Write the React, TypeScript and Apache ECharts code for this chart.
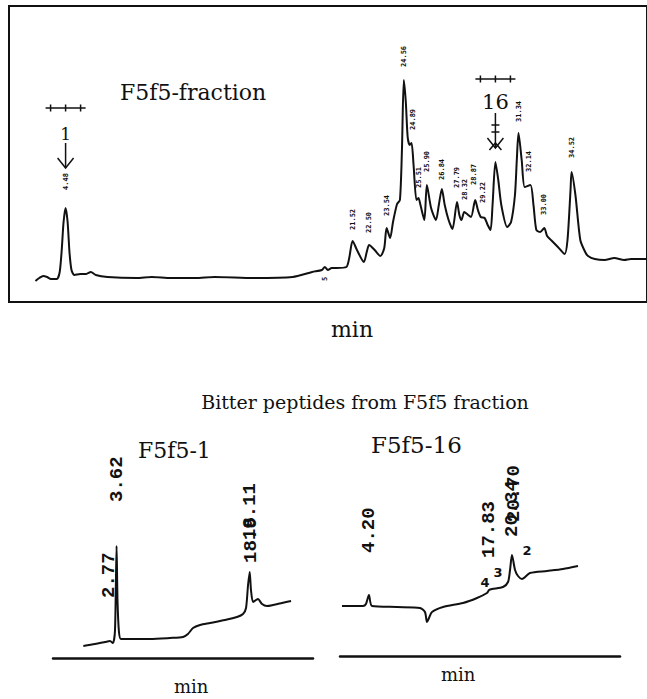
import React, { useEffect, useRef } from "react";
import * as echarts from "echarts";

// F5f5-fraction chromatogram: [retention time (min), detector response]
const fractionTrace: [number, number][] = [
  [2.69, 21], [2.92, 24], [3.15, 26], [3.38, 25], [3.61, 23], [3.96, 23], [4.13, 30], [4.25, 52], [4.36, 80],
  [4.48, 94], [4.6, 80], [4.71, 50], [4.83, 32], [5.0, 27], [5.35, 28], [5.7, 28], [5.98, 30], [6.27, 27],
  [6.97, 25], [8.7, 24], [9.6, 25], [10.73, 24], [12.18, 24], [13.33, 25], [15.65, 24], [17.96, 25], [19.12, 30],
  [19.7, 32], [19.87, 35], [20.05, 32], [20.28, 34], [20.57, 34], [21.15, 35], [21.32, 44], [21.52, 61],
  [21.78, 52], [22.19, 40], [22.36, 50], [22.5, 57], [22.83, 52], [23.17, 46], [23.4, 54], [23.54, 74],
  [23.75, 64], [23.92, 80], [24.16, 98], [24.33, 102], [24.45, 152], [24.56, 222], [24.68, 200], [24.79, 165],
  [24.91, 157], [25.02, 159], [25.14, 137], [25.31, 102], [25.43, 104], [25.55, 97], [25.78, 82], [25.93, 117],
  [26.18, 94], [26.47, 82], [26.64, 97], [26.82, 113], [26.99, 97], [27.22, 82], [27.45, 73], [27.72, 100],
  [27.86, 87], [27.98, 82], [28.15, 90], [28.32, 88], [28.55, 85], [28.8, 102], [28.96, 92], [29.13, 85],
  [29.36, 84], [29.54, 77], [29.71, 72], [29.83, 97], [30.0, 140], [30.17, 122], [30.35, 97], [30.7, 75],
  [30.93, 80], [31.16, 107], [31.27, 142], [31.37, 169], [31.56, 142], [31.74, 115], [32.08, 117], [32.26, 97],
  [32.43, 72], [32.66, 70], [32.9, 74], [33.07, 66], [33.3, 62], [33.71, 55], [34.11, 48], [34.28, 62],
  [34.46, 112], [34.52, 130], [34.75, 107], [35.04, 62], [35.33, 50], [35.5, 46], [35.9, 43], [36.48, 42],
  [37.06, 44], [37.64, 42], [38.05, 43], [39.0, 43],
];

// F5f5-1 chromatogram
const f1Trace: [number, number][] = [
  [0, 12], [1.27, 14], [2.36, 16], [2.9, 17], [3.23, 15], [3.45, 28], [3.62, 112], [3.72, 58], [3.88, 26],
  [4.1, 19], [5.08, 19], [7.26, 19], [9.44, 20], [10.85, 21], [11.39, 24], [11.94, 30], [12.7, 33], [13.79, 35],
  [15.42, 38], [16.73, 41], [17.38, 44], [17.71, 50], [17.93, 73], [18.11, 86], [18.25, 68], [18.47, 56],
  [18.8, 58], [19.01, 59], [19.45, 54], [19.99, 52], [20.65, 53], [21.63, 55], [22.61, 57],
];

// F5f5-16 chromatogram
const f16Trace: [number, number][] = [
  [1.13, 50], [3.52, 50], [3.86, 52], [4.2, 61], [4.55, 50], [7.4, 49], [10.02, 48], [10.59, 44], [10.82, 34],
  [11.05, 38], [11.39, 44], [12.65, 49], [14.93, 53], [16.52, 58], [17.66, 63], [17.9, 66], [18.23, 67],
  [19.49, 69], [20.06, 74], [20.29, 86], [20.51, 101], [20.86, 86], [21.2, 80], [21.65, 77], [22.57, 83],
  [24.51, 85], [26.33, 87], [28.04, 90],
];

// retention-time labels: [time, response at label foot, text]
const fractionPeakLabels: [number, number, string][] = [
  [4.48, 112, "4.48"], [19.87, 21, "5"], [21.52, 72, "21.52"], [22.5, 69, "22.50"], [23.54, 86, "23.54"],
  [24.56, 235, "24.56"], [25.08, 172, "24.89"], [25.49, 114, "25.51"], [25.95, 130, "25.90"],
  [26.82, 122, "26.84"], [27.69, 114, "27.79"], [28.21, 102, "28.32"], [28.73, 117, "28.87"],
  [29.25, 99, "29.22"], [31.39, 180, "31.34"], [31.97, 130, "32.14"], [32.9, 87, "33.00"], [34.52, 144, "34.52"],
];
const f1PeakLabels: [number, number, string][] = [
  [2.77, 60, "2.77"], [3.62, 156, "3.62"], [18.11, 118, "18.11"], [18.2, 95, "18.9"],
];
const f16PeakLabels: [number, number, string][] = [
  [4.2, 103, "4.20"], [17.9, 98, "17.83"], [20.5, 119, "20.34"], [20.72, 134, "20.70"],
];
const f16PeakNumbers: [number, number, string][] = [
  [17.44, 74, "4"], [18.92, 84, "3"], [22.22, 106, "2"],
];

// bitter fractions marked on the fraction chromatogram
const bitterMarks = [
  { name: "1", time: 4.48, plus: 194, num: 170, arrowTop: 159, arrowTip: 134, size: 17 },
  { name: "16", time: 30.0, plus: 223, num: 202, arrowTop: 189, arrowTip: 154, size: 21 },
];

const INK = "#111";
const SERIF = '"DejaVu Serif", "Liberation Serif", serif';

export default function App() {
  const ref = useRef<HTMLDivElement>(null);

  useEffect(() => {
    if (!ref.current) return;
    const chart = echarts.init(ref.current, undefined, { renderer: "svg" });

    const hiddenAxis = { show: false };
    const bottomX = (min: number, max: number, gi: number) => ({
      type: "value", gridIndex: gi, min, max, position: "bottom",
      axisLine: { show: true, onZero: false, lineStyle: { color: INK, width: 2.5 } },
      axisTick: { show: false }, axisLabel: { show: false }, splitLine: { show: false },
    });
    const line = (data: [number, number][], gi: number) => ({
      type: "line", xAxisIndex: gi, yAxisIndex: gi, data, symbol: "none", smooth: 0.25,
      lineStyle: { color: INK, width: 2 }, silent: true,
    });

    chart.setOption({
      animation: false,
      backgroundColor: "#fff",
      grid: [
        { left: 9, top: 6, width: 654.6, height: 296, show: true, borderColor: INK, borderWidth: 2, backgroundColor: "transparent" },
        { left: 53, top: 458, width: 260, height: 200 },
        { left: 340, top: 456, width: 280, height: 200 },
      ],
      xAxis: [
        { type: "value", gridIndex: 0, min: 1.12, max: 39, ...hiddenAxis },
        bottomX(-3.3, 25, 1),
        bottomX(0.9, 32.83, 2),
      ],
      yAxis: [
        { type: "value", gridIndex: 0, min: 0, max: 296, ...hiddenAxis },
        { type: "value", gridIndex: 1, min: 0, max: 200, ...hiddenAxis },
        { type: "value", gridIndex: 2, min: 0, max: 200, ...hiddenAxis },
      ],
      series: [line(fractionTrace, 0), line(f1Trace, 1), line(f16Trace, 2)],
    });

    const px = (gi: number, t: number, v: number) =>
      chart.convertToPixel({ gridIndex: gi } as any, [t, v]) as number[];

    const els: any[] = [];
    const rotLabels = (gi: number, list: [number, number, string][], font: string) => {
      list.forEach(([t, v, text]) => {
        const p = px(gi, t, v);
        els.push({
          type: "text", x: p[0], y: p[1], rotation: Math.PI / 2, silent: true,
          style: { text, font, fill: INK, align: "left", verticalAlign: "middle" },
        });
      });
    };
    rotLabels(0, fractionPeakLabels, 'bold 7px "DejaVu Sans Mono", monospace');
    rotLabels(1, f1PeakLabels, 'bold 19px "Liberation Mono", monospace');
    rotLabels(2, f16PeakLabels, 'bold 19px "Liberation Mono", monospace');

    f16PeakNumbers.forEach(([t, v, text]) => {
      const p = px(2, t, v);
      els.push({ type: "text", x: p[0], y: p[1], silent: true,
        style: { text, font: 'bold 13px "DejaVu Sans", sans-serif', fill: INK, align: "center", verticalAlign: "middle" } });
    });

    bitterMarks.forEach((m) => {
      const pPlus = px(0, m.time, m.plus);
      const pNum = px(0, m.time, m.num);
      const pTop = px(0, m.time, m.arrowTop);
      const pTip = px(0, m.time, m.arrowTip);
      const x = pPlus[0];
      const ls = { stroke: INK, lineWidth: 1.5 };
      els.push({ type: "line", silent: true, shape: { x1: x - 20, y1: pPlus[1], x2: x + 20, y2: pPlus[1] }, style: ls });
      [-15, 0, 15].forEach((dx) =>
        els.push({ type: "line", silent: true, shape: { x1: x + dx, y1: pPlus[1] - 3.5, x2: x + dx, y2: pPlus[1] + 3.5 }, style: ls }));
      els.push({ type: "text", x, y: pNum[1] + 2, silent: true,
        style: { text: m.name, font: `${m.size}px ${SERIF}`, fill: INK, align: "center", verticalAlign: "middle" } });
      els.push({ type: "line", silent: true, shape: { x1: x, y1: pTop[1], x2: x, y2: pTip[1] }, style: ls });
      els.push({ type: "polyline", silent: true,
        shape: { points: [[x - 8, pTip[1] - 10], [x, pTip[1]], [x + 8, pTip[1] - 10]] }, style: { ...ls, fill: null } });
      if (m.name === "16") {
        [12, 19].forEach((dy) =>
          els.push({ type: "line", silent: true, shape: { x1: x - 4, y1: pTop[1] + dy, x2: x + 4, y2: pTop[1] + dy }, style: ls }));
        els.push({ type: "polyline", silent: true,
          shape: { points: [[x - 6, pTip[1] + 2], [x, pTip[1] - 5], [x + 6, pTip[1] + 2]] }, style: { ...ls, fill: null } });
      }
    });

    const label = (text: string, x: number, y: number, size: number, align = "left") =>
      els.push({ type: "text", x, y, silent: true,
        style: { text, font: `${size}px ${SERIF}`, fill: INK, align, verticalAlign: "middle" } });
    label("F5f5-fraction", 120, 92, 22);
    label("min", 331, 329, 22);
    label("Bitter peptides from F5f5 fraction", 365, 402, 19, "center");
    label("F5f5-1", 138, 450, 22);
    label("F5f5-16", 371, 445, 23);
    label("min", 441, 674, 18);
    label("min", 174, 686, 18);

    chart.setOption({ graphic: els });

    return () => chart.dispose();
  }, []);

  return <div ref={ref} style={{ position: "absolute", left: 0, top: 0, width: 647, height: 699 }} />;
}
